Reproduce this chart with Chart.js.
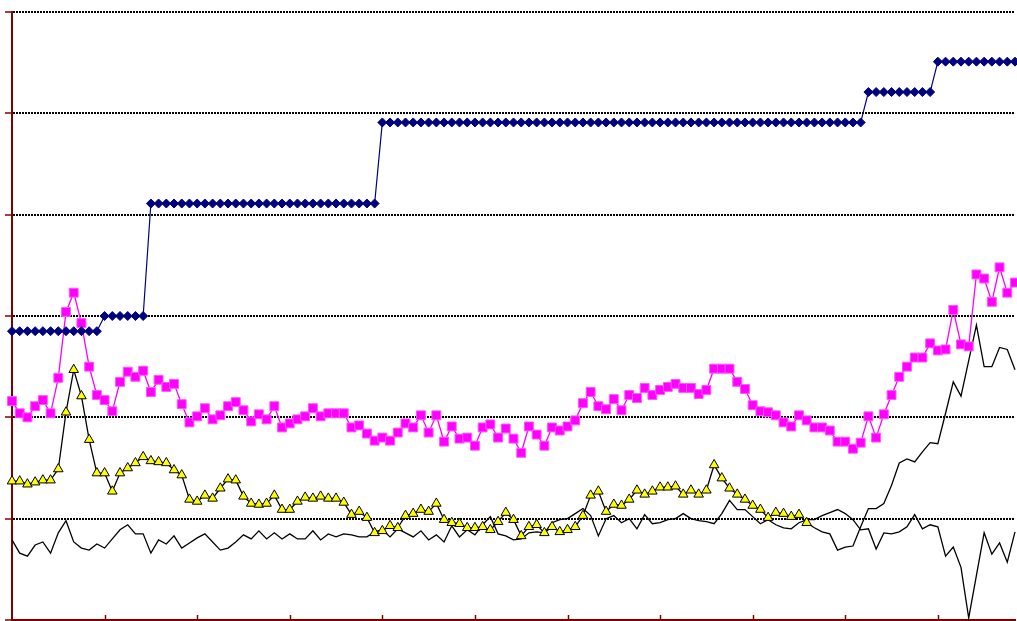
<!DOCTYPE html>
<html>
<head>
<meta charset="utf-8">
<script src="https://cdn.jsdelivr.net/npm/chart.js@4"></script>
<style>
  html, body { margin: 0; padding: 0; background: #fff; }
  canvas { display: block; }
</style>
</head>
<body>
<canvas id="main_chart" width="1017" height="621"></canvas>
<script>
// 131 periods, one x tick every 12
const periods = Array.from({ length: 131 }, (_, i) => i + 1);
const tick_every = 12;

const y_ticks = [0, 10, 20, 30, 40, 50, 60];

const navy_steps = [
  28.5, 28.5, 28.5, 28.5, 28.5, 28.5, 28.5, 28.5, 28.5, 28.5, 28.5, 28.5,
  30.0, 30.0, 30.0, 30.0, 30.0, 30.0,
  41.1, 41.1, 41.1, 41.1, 41.1, 41.1, 41.1, 41.1, 41.1, 41.1,
  41.1, 41.1, 41.1, 41.1, 41.1, 41.1, 41.1, 41.1, 41.1, 41.1,
  41.1, 41.1, 41.1, 41.1, 41.1, 41.1, 41.1, 41.1, 41.1, 41.1,
  49.1, 49.1, 49.1, 49.1, 49.1, 49.1, 49.1, 49.1, 49.1, 49.1,
  49.1, 49.1, 49.1, 49.1, 49.1, 49.1, 49.1, 49.1, 49.1, 49.1,
  49.1, 49.1, 49.1, 49.1, 49.1, 49.1, 49.1, 49.1, 49.1, 49.1,
  49.1, 49.1, 49.1, 49.1, 49.1, 49.1, 49.1, 49.1, 49.1, 49.1,
  49.1, 49.1, 49.1, 49.1, 49.1, 49.1, 49.1, 49.1, 49.1, 49.1,
  49.1, 49.1, 49.1, 49.1, 49.1, 49.1, 49.1, 49.1, 49.1, 49.1,
  49.1, 49.1, 49.1,
  52.1, 52.1, 52.1, 52.1, 52.1, 52.1, 52.1, 52.1, 52.1,
  55.1, 55.1, 55.1, 55.1, 55.1, 55.1, 55.1, 55.1, 55.1, 55.1, 55.1
];

const magenta_series = [
  21.6, 20.4, 20.0, 21.1, 21.7, 20.4, 23.9, 30.4, 32.3, 29.3,
  25.0, 22.2, 21.7, 20.6, 23.5, 24.5, 24.0, 24.6, 22.5, 23.7,
  23.0, 23.3, 21.3, 19.5, 20.1, 20.9, 19.8, 20.2, 21.1, 21.5,
  20.7, 19.6, 20.3, 19.8, 21.1, 19.0, 19.4, 19.8, 20.1, 20.9,
  20.1, 20.4, 20.4, 20.4, 19.0, 19.2, 18.4, 17.7, 18.0, 17.7,
  18.5, 19.4, 19.0, 20.2, 18.5, 20.2, 17.6, 19.1, 17.9, 18.0,
  17.2, 19.0, 19.3, 18.0, 18.9, 17.9, 16.5, 19.1, 18.3, 17.2,
  19.0, 18.7, 19.1, 19.7, 21.4, 22.5, 21.1, 20.8, 21.8, 20.7,
  22.2, 21.9, 22.9, 22.2, 22.7, 23.0, 23.3, 22.9, 22.9, 22.3,
  22.7, 24.8, 24.8, 24.8, 23.5, 22.8, 21.2, 20.6, 20.5, 20.2,
  19.5, 19.1, 20.2, 19.7, 19.0, 19.0, 18.7, 17.6, 17.6, 16.9,
  17.5, 20.1, 18.0, 20.3, 22.2, 24.0, 25.0, 25.9, 25.9, 27.3,
  26.6, 26.7, 30.6, 27.2, 27.0, 34.1, 33.7, 31.4, 34.8, 32.3, 33.3
];

// yellow markers only on the first 104 points, the line goes on without them
const yellow_series = [
  13.7, 13.7, 13.4, 13.6, 13.8, 13.8, 14.9, 20.5, 24.7, 22.1,
  17.8, 14.5, 14.5, 12.7, 14.5, 15.0, 15.5, 16.1, 15.7, 15.6,
  15.5, 14.8, 14.3, 11.9, 11.7, 12.3, 12.0, 13.0, 13.9, 13.8,
  12.2, 11.5, 11.4, 11.5, 12.3, 10.9, 10.9, 11.7, 12.1, 12.0,
  12.2, 12.0, 12.0, 11.6, 10.4, 10.7, 10.1, 8.6, 8.8, 9.3,
  9.1, 10.3, 10.5, 10.9, 10.7, 11.5, 9.9, 9.6, 9.5, 9.1,
  9.1, 9.2, 8.9, 9.7, 10.6, 9.9, 8.3, 9.2, 9.4, 8.6,
  9.2, 8.7, 8.9, 9.2, 10.3, 12.3, 12.7, 10.7, 11.4, 11.3,
  11.9, 12.8, 12.4, 12.7, 13.1, 13.1, 13.2, 12.4, 12.8, 12.4,
  12.8, 15.3, 14.0, 13.0, 12.4, 11.9, 11.3, 10.9, 10.1, 10.6,
  10.5, 10.2, 10.4, 9.6, 9.1, 8.7, 8.5, 6.9, 7.2, 7.3,
  9.2, 11.0, 11.0, 11.5, 13.3, 15.5, 15.9, 15.6, 16.6, 17.5,
  17.4, 20.4, 23.5, 22.1, 25.6, 29.1, 25.0, 25.0, 26.9, 26.7, 24.7
];
const yellow_marked = 104;

const black_series = [
  7.9, 6.6, 6.3, 7.4, 7.7, 6.6, 8.6, 9.8, 7.7, 7.1,
  6.9, 7.5, 7.1, 8.0, 8.9, 9.4, 8.5, 8.5, 6.6, 7.9,
  7.5, 8.3, 7.1, 7.6, 8.1, 8.5, 7.7, 6.9, 7.1, 7.7,
  8.4, 8.0, 8.8, 8.0, 8.6, 8.0, 8.5, 8.0, 8.0, 8.8,
  7.9, 8.5, 8.2, 8.5, 8.4, 8.2, 8.2, 8.7, 8.9, 8.2,
  9.0, 8.6, 8.2, 8.8, 7.9, 8.4, 7.7, 9.3, 8.2, 8.9,
  8.4, 9.4, 10.2, 8.5, 8.3, 7.9, 8.0, 8.6, 8.7, 8.6,
  9.6, 9.9, 10.0, 10.5, 11.0, 10.3, 8.3, 10.0, 10.3, 9.6,
  10.0, 9.0, 10.4, 9.5, 9.6, 9.9, 10.0, 10.5, 10.0, 9.8,
  9.7, 9.5, 10.5, 11.8, 10.9, 10.9, 10.2, 9.5, 9.9, 9.4,
  9.1, 9.0, 9.6, 9.9, 9.9, 10.3, 10.6, 10.9, 10.5, 9.9,
  8.9, 9.0, 7.0, 8.6, 8.5, 8.7, 9.2, 10.4, 9.0, 9.4,
  9.2, 6.3, 7.2, 5.2, 0.2, 4.4, 8.6, 6.5, 7.6, 5.7, 8.7
];

const axis_red = "#800000";

// small x tick marks pointing up into the plot
const inner_x_ticks = {
  id: "inner_x_ticks",
  afterDraw: (chart) => {
    const { ctx, chartArea, scales } = chart;
    ctx.save();
    ctx.strokeStyle = axis_red;
    ctx.lineWidth = 1.5;
    for (let i = tick_every; i < periods.length; i += tick_every) {
      const x = Math.round(scales.x.getPixelForValue(i)) + 0.5;
      ctx.beginPath();
      ctx.moveTo(x, chartArea.bottom);
      ctx.lineTo(x, chartArea.bottom - 5);
      ctx.stroke();
    }
    ctx.restore();
  },
};

const data_main = {
  labels: periods,
  datasets: [
    {
      label: "navy",
      data: navy_steps,
      borderColor: "#000080",
      borderWidth: 1.2,
      pointStyle: "rectRot",
      pointRadius: 4.5,
      pointBackgroundColor: "#000080",
      pointBorderColor: "#000080",
      pointBorderWidth: 1,
      clip: false,
    },
    {
      label: "magenta",
      data: magenta_series,
      borderColor: "#FF00FF",
      borderWidth: 1.3,
      pointStyle: "rect",
      pointRadius: 6.3,
      pointBackgroundColor: "#FF00FF",
      pointBorderColor: "#FF55FF",
      pointBorderWidth: 1,
      clip: false,
    },
    {
      label: "yellow",
      data: yellow_series,
      borderColor: "#000000",
      borderWidth: 1.3,
      pointStyle: "triangle",
      pointRadius: (context) => (context.dataIndex < yellow_marked ? 5.5 : 0),
      pointBackgroundColor: "#FFFF00",
      pointBorderColor: "#000000",
      pointBorderWidth: 1,
      clip: false,
    },
    {
      label: "black",
      data: black_series,
      borderColor: "#000000",
      borderWidth: 1.3,
      pointRadius: 0,
      clip: false,
    },
  ],
};

const config_main = {
  type: "line",
  data: data_main,
  options: {
    responsive: false,
    devicePixelRatio: 1,
    animation: false,
    layout: {
      autoPadding: false,
      padding: { left: 5, top: 12, right: 2, bottom: 1 },
    },
    elements: { line: { tension: 0 } },
    plugins: {
      legend: { display: false },
      tooltip: { enabled: false },
    },
    scales: {
      x: {
        offset: false,
        ticks: { display: false },
        grid: { display: false, drawTicks: false },
        border: { color: axis_red, width: 2 },
      },
      y: {
        min: y_ticks[0],
        max: y_ticks[y_ticks.length - 1],
        afterBuildTicks: (axis) => {
          axis.ticks = y_ticks.map((v) => ({ value: v }));
        },
        ticks: { display: false },
        grid: {
          color: "#000000",
          lineWidth: 2,
          tickColor: axis_red,
          tickLength: 7,
          tickWidth: 1.5,
        },
        border: { color: axis_red, width: 2, dash: [2, 1] },
      },
    },
  },
  plugins: [inner_x_ticks],
};

var ctx_main = document.getElementById("main_chart");
var main_chart = new Chart(ctx_main, config_main);
</script>
</body>
</html>
